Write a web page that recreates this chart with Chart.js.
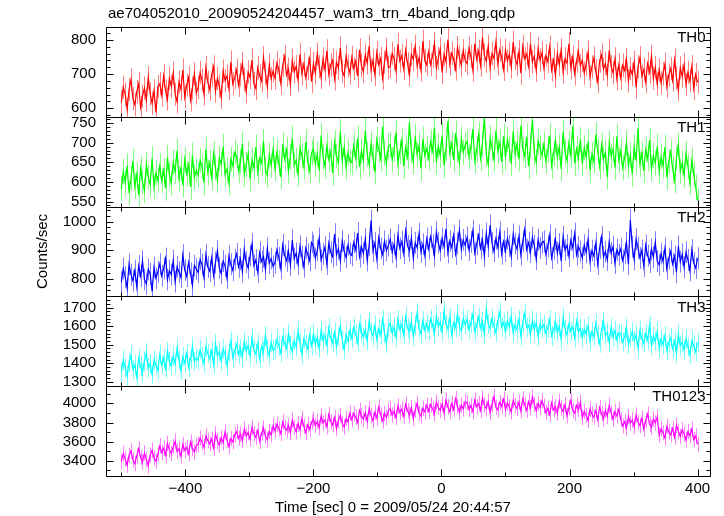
<!DOCTYPE html>
<html>
<head>
<meta charset="utf-8">
<script src="https://cdn.jsdelivr.net/npm/chart.js@4.4.1/dist/chart.umd.min.js"></script>
<style>
  html, body { margin: 0; padding: 0; background: #fff; }
  #wrap { position: relative; width: 724px; height: 516px; overflow: hidden; background: #fff; }
  #c { position: absolute; left: 0; top: 0; }
  .txt { position: absolute; font-family: 'Liberation Sans', Arial, Helvetica, sans-serif; font-size: 15px; font-weight: normal; line-height: 15px; color: #000; white-space: nowrap; }
  #title { left: 108px; top: 5px; }
  #xlab { left: 193px; width: 400px; text-align: center; top: 499px; }
  #ylab { left: 34px; top: 214px; writing-mode: vertical-rl; transform: rotate(180deg); }
</style>
</head>
<body>
<div id="wrap">
  <canvas id="c" width="724" height="516"></canvas>
  <div class="txt" id="title">ae704052010_20090524204457_wam3_trn_4band_long.qdp</div>
  <div class="txt" id="xlab">Time [sec] 0 = 2009/05/24 20:44:57</div>
  <div class="txt" id="ylab">Counts/sec</div>
</div>
<script>
// ---- data (time bins: start and width in seconds) ----
const tStart = -500;
const binSize = 3;

const panelNames = ['TH0', 'TH1', 'TH2', 'TH3', 'TH0123'];

const th0 = [
618,662,641,597,655,683,629,611,648,671,603,636,659,624,690,642,615,651,588,664,
672,639,695,651,627,688,664,703,641,619,677,656,712,633,668,690,624,659,701,645,
661,704,683,642,719,676,655,698,721,650,687,665,632,709,681,694,658,735,671,689,
712,667,698,731,684,649,706,690,741,672,658,719,695,680,748,703,663,726,687,709,
688,733,712,674,726,751,697,715,669,740,706,722,683,758,701,729,690,716,745,678,
731,704,759,722,690,745,713,768,699,727,741,686,734,718,777,709,695,752,724,703,
749,716,738,694,771,725,707,756,733,782,712,740,699,763,728,746,688,735,772,719,
722,761,745,709,787,738,754,716,770,731,699,758,743,781,724,748,712,796,739,727,
765,728,752,790,719,746,773,705,758,737,801,729,761,744,715,778,750,726,769,740,
731,776,752,712,789,744,767,726,808,755,738,781,719,760,746,793,730,771,749,714,
770,739,758,721,794,747,728,766,703,781,745,759,724,789,736,752,711,775,741,763,
718,754,737,779,712,741,695,760,728,771,706,745,732,789,719,750,701,738,766,724,
741,703,729,764,692,721,747,709,678,738,756,715,731,697,770,722,704,745,686,727,
689,726,711,743,680,716,699,735,662,721,748,694,713,677,731,706,752,688,719,671,
712,675,701,729,664,697,716,682,741,690,653,718,694,727,669,705,681,722,658,699,
676];

const th1 = [
582,627,598,641,571,610,653,589,619,566,634,601,578,645,612,594,660,587,623,604,
641,603,629,584,662,618,597,650,626,679,608,635,591,657,621,643,587,668,612,630,
617,655,639,598,683,624,649,611,672,636,604,661,645,690,619,633,597,658,641,676,
665,628,651,697,619,644,672,608,656,637,689,625,661,648,704,631,617,668,642,683,
634,676,649,613,695,658,681,627,664,711,642,655,620,687,667,639,702,651,629,673,
684,645,671,629,718,663,640,692,657,677,622,701,666,648,729,654,689,637,674,652,
649,693,661,712,638,679,655,731,670,644,697,663,625,708,682,659,741,673,646,690,
695,657,683,726,648,677,705,640,688,664,752,679,651,716,670,693,634,709,667,685,
661,702,679,738,650,691,668,719,642,684,755,673,697,656,725,681,648,710,676,694,
703,664,689,735,653,681,721,660,697,765,670,645,712,686,658,731,679,700,651,716,
662,708,684,646,729,671,697,658,744,682,666,715,640,691,759,673,650,704,687,668,
695,653,681,718,641,672,706,663,689,633,727,676,655,699,668,742,647,684,661,708,
646,687,664,703,629,671,652,721,680,639,694,658,675,612,699,666,683,637,716,655,
678,636,661,699,642,668,620,689,654,737,645,672,628,683,659,707,633,667,648,691,
627,664,642,689,611,652,676,635,603,661,694,628,649,617,672,640,598,655,621,587,
553];

const th2 = [
789,836,807,768,851,815,794,829,773,845,810,862,798,782,833,818,756,840,803,825,
852,811,836,871,798,829,815,864,790,842,824,805,883,831,809,857,819,778,846,835,
823,868,849,806,884,841,827,873,812,857,898,838,819,862,845,803,879,851,830,867,
887,842,869,826,903,858,839,881,921,847,866,824,892,861,877,833,906,855,871,844,
856,901,874,837,919,882,863,896,848,935,871,889,852,914,877,842,908,886,864,927,
915,872,899,941,866,887,910,851,924,893,878,956,884,905,863,932,896,875,918,889,
882,927,901,960,878,912,889,939,864,918,1003,897,925,871,944,906,885,931,899,916,
938,893,921,876,952,907,930,889,967,915,898,943,872,926,909,958,894,921,881,940,
905,947,918,881,963,926,899,941,913,975,892,932,910,951,887,924,969,903,936,917,
944,901,929,968,890,921,952,907,936,879,958,914,987,925,897,940,911,962,888,930,
897,941,915,879,955,923,904,948,884,931,972,902,926,893,944,916,869,937,908,927,
931,886,914,952,873,905,939,891,922,862,947,901,917,880,935,909,958,884,912,896,
873,918,892,937,861,899,880,924,851,908,946,877,895,866,929,890,912,855,901,884,
905,864,889,926,851,1005,912,868,938,908,873,899,845,917,881,859,903,876,928,862,
849,888,862,907,835,871,896,852,879,823,914,860,885,841,893,866,829,901,855,838,
872];

const th3 = [
1352,1418,1376,1331,1405,1443,1367,1391,1326,1429,1384,1350,1412,1459,1373,1398,1339,1421,1388,1362,
1447,1392,1428,1371,1466,1410,1385,1439,1398,1481,1419,1363,1435,1402,1455,1377,1424,1490,1408,1431,
1418,1473,1437,1401,1489,1452,1426,1468,1395,1504,1441,1463,1412,1477,1449,1387,1458,1521,1430,1466,
1502,1448,1481,1433,1519,1467,1496,1440,1537,1475,1452,1508,1423,1489,1462,1548,1479,1441,1513,1470,
1476,1529,1493,1455,1541,1508,1482,1561,1497,1465,1523,1489,1574,1511,1450,1534,1503,1479,1552,1495,
1558,1504,1537,1481,1576,1522,1549,1497,1590,1533,1511,1567,1488,1545,1601,1526,1473,1554,1519,1578,
1535,1594,1557,1512,1611,1566,1540,1583,1520,1628,1571,1548,1603,1529,1587,1554,1638,1561,1506,1592,
1617,1563,1595,1540,1636,1581,1609,1552,1651,1590,1568,1624,1545,1603,1672,1585,1559,1630,1577,1612,
1578,1639,1606,1561,1655,1597,1622,1570,1681,1610,1585,1647,1553,1618,1593,1666,1601,1574,1641,1609,
1635,1582,1617,1664,1571,1603,1649,1590,1624,1558,1692,1611,1587,1643,1599,1566,1628,1675,1595,1620,
1574,1628,1597,1651,1563,1609,1582,1637,1548,1616,1669,1591,1605,1557,1633,1579,1620,1544,1612,1586,
1609,1561,1590,1635,1547,1578,1623,1566,1601,1529,1648,1584,1555,1612,1573,1596,1538,1627,1569,1590,
1537,1586,1558,1601,1521,1570,1545,1612,1553,1508,1579,1629,1549,1566,1512,1594,1541,1575,1527,1563,
1561,1514,1543,1590,1501,1537,1569,1522,1552,1483,1578,1531,1508,1560,1526,1604,1495,1547,1518,1571,
1483,1529,1502,1548,1468,1511,1536,1479,1520,1453,1557,1495,1514,1471,1531,1488,1446,1522,1497,1463,
1512];

const th0123 = [
3392,3476,3421,3355,3458,3503,3410,3371,3449,3528,3437,3389,3481,3416,3347,3462,3510,3428,3395,3470,
3556,3489,3532,3461,3583,3515,3477,3548,3604,3498,3526,3452,3571,3509,3540,3474,3597,3531,3493,3562,
3571,3638,3593,3544,3659,3612,3578,3627,3535,3681,3606,3565,3643,3589,3702,3617,3551,3633,3598,3669,
3704,3636,3679,3612,3733,3661,3695,3627,3752,3683,3645,3718,3604,3689,3741,3657,3621,3710,3673,3766,
3712,3781,3735,3684,3806,3748,3719,3770,3693,3825,3754,3705,3789,3727,3841,3760,3698,3776,3731,3802,
3833,3769,3812,3746,3868,3795,3827,3758,3886,3811,3774,3849,3735,3821,3874,3790,3752,3843,3806,3897,
3829,3893,3855,3801,3926,3868,3836,3901,3812,3944,3872,3820,3908,3847,3963,3880,3817,3895,3851,3921,
3944,3877,3918,3852,3973,3904,3938,3865,3991,3921,3883,3956,3841,3929,4002,3897,3868,3948,3911,3979,
3918,3986,3947,3893,4014,3959,3925,3992,3901,4035,3963,3912,3998,3936,4050,3971,3907,3983,3942,4018,
4005,3938,3979,3914,4036,3966,3997,3927,4058,3981,3944,4019,3903,3988,4071,3959,3931,4010,3970,4044,
3936,4004,3963,3910,4031,3978,3947,4012,3921,4049,3985,3929,4017,3953,4066,3990,3924,3998,3958,4025,
3971,3905,3948,3884,4003,3932,3966,3897,4024,3951,3913,3987,3872,3958,4031,3926,3899,3979,3937,4008,
3849,3916,3874,3822,3941,3887,3856,3922,3831,3958,3893,3840,3927,3865,3978,3901,3835,3912,3870,3936,
3832,3765,3809,3744,3861,3792,3826,3757,3879,3805,3768,3844,3730,3817,3887,3781,3751,3836,3795,3858,
3669,3735,3693,3640,3758,3704,3672,3739,3648,3771,3710,3655,3726,3682,3617,3705,3663,3730,3621,3659,
3572];

// typical 1-sigma error per band (counts/sec)
const errTH = [34, 32, 38, 52, 80];

// axis tick labels
const xTicks = [-400, -200, 0, 200, 400];
const yTicksTH0 = [600, 700, 800];
const yTicksTH1 = [550, 600, 650, 700, 750];
const yTicksTH2 = [800, 900, 1000];
const yTicksTH3 = [1300, 1400, 1500, 1600, 1700];
const yTicksTH0123 = [3400, 3600, 3800, 4000];

// axis ranges
const xRange = [-524, 421];
const yRangeTH0 = [575, 838];
const yRangeTH1 = [537, 766];
const yRangeTH2 = [739, 1052];
const yRangeTH3 = [1277, 1760];
const yRangeTH0123 = [3242, 4179];

// ---- styling ----
const FONT = "'Liberation Sans', Arial, Helvetica, sans-serif";
const seriesValues = [th0, th1, th2, th3, th0123];
const yTickSets = [yTicksTH0, yTicksTH1, yTicksTH2, yTicksTH3, yTicksTH0123];
const yRanges = [yRangeTH0, yRangeTH1, yRangeTH2, yRangeTH3, yRangeTH0123];
const colors = ['#ff0000', '#00ff00', '#0000ff', '#00ffff', '#ff00ff'];
const errColors = ['rgba(255,0,0,0.5)', 'rgba(0,255,0,0.5)', 'rgba(0,0,255,0.5)', 'rgba(0,255,255,0.55)', 'rgba(255,0,255,0.5)'];
const minorSteps = [20, 10, 20, 20, 100];
const majorSteps = [100, 50, 100, 100, 200];

const datasets = seriesValues.map((vals, k) => ({
  label: panelNames[k],
  data: vals.map((v, i) => ({ x: tStart + i * binSize, y: v })),
  yAxisID: 'y' + k,
  borderColor: colors[k],
  borderWidth: 1.2,
  pointRadius: 0,
  tension: 0,
  fill: false,
  err: errTH[k],
  errColor: errColors[k]
}));

const scales = {
  x: {
    type: 'linear',
    min: xRange[0], max: xRange[1],
    grid: { display: false, drawTicks: false },
    border: { display: false },
    afterBuildTicks: s => { s.ticks = xTicks.map(v => ({ value: v })); },
    afterFit: s => { s.height = 40; },
    ticks: {
      color: '#000', padding: 4, maxRotation: 0, autoSkip: false,
      font: { family: FONT, size: 15 },
      callback: v => (v < 0 ? '\u2212' + Math.abs(v) : String(v))
    }
  }
};
// bottom panel defined first: later stacked axes are placed above
for (let k = 4; k >= 0; k--) {
  scales['y' + k] = {
    type: 'linear',
    position: 'left',
    stack: 'panels',
    stackWeight: 1,
    min: yRanges[k][0], max: yRanges[k][1],
    grid: { display: false, drawTicks: false },
    border: { display: false },
    afterBuildTicks: s => { s.ticks = yTickSets[k].map(v => ({ value: v })); },
    afterFit: s => { s.width = 106; },
    ticks: {
      color: '#000', padding: 10, autoSkip: false,
      font: { family: FONT, size: 15 },
      callback: v => String(v)
    }
  };
}

const panelPlugin = {
  id: 'panelPlugin',
  beforeDatasetsDraw(chart) {
    const ctx = chart.ctx;
    const ca = chart.chartArea;
    chart.data.datasets.forEach((ds, di) => {
      const meta = chart.getDatasetMeta(di);
      const ys = chart.scales[ds.yAxisID];
      ctx.save();
      ctx.beginPath();
      ctx.rect(ca.left, ys.top, ca.right - ca.left, ys.bottom - ys.top);
      ctx.clip();
      ctx.strokeStyle = ds.errColor;
      ctx.lineWidth = 1;
      ctx.beginPath();
      meta.data.forEach((pt, i) => {
        const v = ds.data[i].y;
        const x = Math.round(pt.x) + 0.5;
        ctx.moveTo(x, ys.getPixelForValue(v + ds.err));
        ctx.lineTo(x, ys.getPixelForValue(v - ds.err));
      });
      ctx.stroke();
      ctx.restore();
    });
  },
  afterDatasetsDraw(chart) {
    const ctx = chart.ctx;
    const xs = chart.scales.x;
    const L = Math.round(xs.left) + 0.5, R = Math.round(xs.right) - 0.5;
    ctx.save();
    ctx.strokeStyle = '#000';
    ctx.lineWidth = 1;
    for (let k = 0; k < 5; k++) {
      const ys = chart.scales['y' + k];
      const T = Math.round(ys.top) + 0.5, B = Math.round(ys.bottom) + 0.5;
      ctx.beginPath();
      ctx.rect(L, T, R - L, B - T);
      const [y0, y1] = yRanges[k];
      for (let v = Math.ceil(y0 / minorSteps[k]) * minorSteps[k]; v <= y1; v += minorSteps[k]) {
        const py = Math.round(ys.getPixelForValue(v)) + 0.5;
        const len = (v % majorSteps[k] === 0) ? 7 : 4;
        ctx.moveTo(L, py); ctx.lineTo(L + len, py);
        ctx.moveTo(R, py); ctx.lineTo(R - len, py);
      }
      for (let t = Math.ceil(xRange[0] / 100) * 100; t <= xRange[1]; t += 100) {
        const px = Math.round(xs.getPixelForValue(t)) + 0.5;
        const len = (t % 200 === 0) ? 7 : 4;
        ctx.moveTo(px, T); ctx.lineTo(px, T + len);
        ctx.moveTo(px, B); ctx.lineTo(px, B - len);
      }
      ctx.stroke();
      ctx.fillStyle = '#000';
      ctx.font = '15px ' + FONT;
      ctx.textAlign = 'right';
      ctx.textBaseline = 'middle';
      ctx.fillText(panelNames[k], R - 5, ys.top + 11);
    }
    ctx.restore();
  }
};

new Chart(document.getElementById('c'), {
  type: 'line',
  data: { datasets },
  options: {
    responsive: false,
    animation: false,
    devicePixelRatio: 1,
    layout: { padding: { top: 27, right: 13, left: 0, bottom: 0 } },
    plugins: { legend: { display: false }, tooltip: { enabled: false }, title: { display: false } },
    scales
  },
  plugins: [panelPlugin]
});
</script>
</body>
</html>
